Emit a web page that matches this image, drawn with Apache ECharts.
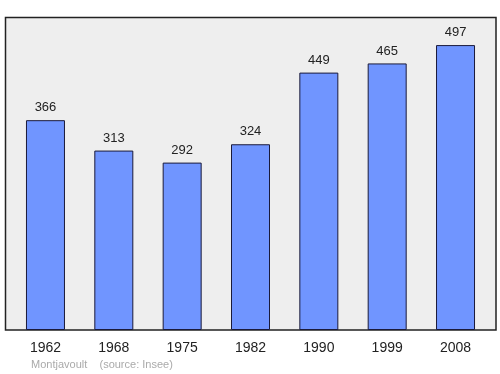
<!DOCTYPE html>
<html>
<head>
<meta charset="utf-8">
<script src="https://cdn.jsdelivr.net/npm/echarts@6/dist/echarts.min.js"></script>
<style>html,body{margin:0;padding:0;background:#fff}#c{width:500px;height:374px}</style>
</head>
<body>
<div id="c"></div>
<script>
const categories = ['1962','1968','1975','1982','1990','1999','2008'];
const population = [366, 313, 292, 324, 449, 465, 497];
const footerText = 'Montjavoult    (source: Insee)';

const chart = echarts.init(document.getElementById('c'), null, {renderer: 'canvas'});
chart.setOption({
  animation: false,
  backgroundColor: '#ffffff',
  graphic: [
    {type: 'rect', z: 0, shape: {x: 5.5, y: 17.5, width: 490.5, height: 312.5},
     style: {fill: '#eeeeee', stroke: '#222222', lineWidth: 1.5}},
    {type: 'text', z: 5, left: 31, top: 359,
     style: {text: footerText, fill: '#aaaaaa', font: '11px "Liberation Sans", Arial, sans-serif'}}
  ],
  grid: {left: 11.3, right: 10.3, top: 17, bottom: 44},
  xAxis: {
    type: 'category', data: categories,
    axisLine: {show: false}, axisTick: {show: false},
    axisLabel: {fontSize: 14, color: '#222', margin: 11, fontFamily: '"Liberation Sans", Arial, sans-serif'}
  },
  yAxis: {type: 'value', min: 0, max: 546, show: false, splitLine: {show: false}},
  series: [{
    type: 'bar', data: population, barWidth: 39, z: 2,
    itemStyle: {color: '#7095ff', borderColor: '#1a1a3a', borderWidth: 1, borderRadius: 0},
    label: {show: true, position: 'top', distance: 6, fontSize: 13, color: '#222',
            fontFamily: '"Liberation Sans", Arial, sans-serif'}
  }]
});
</script>
</body>
</html>
